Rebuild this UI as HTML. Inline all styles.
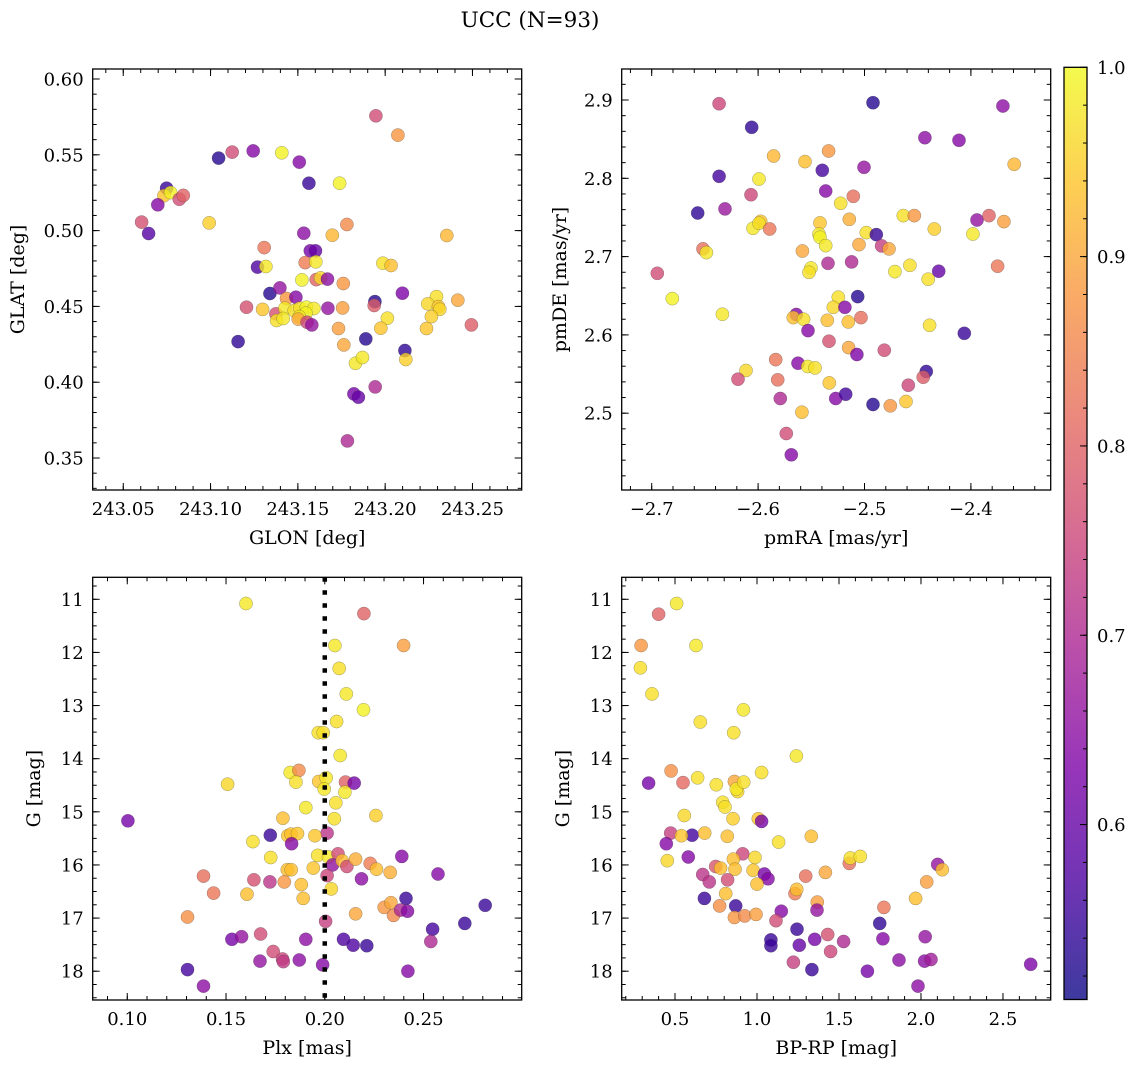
<!DOCTYPE html>
<html><head><meta charset="utf-8"><title>UCC (N=93)</title>
<style>
html,body{margin:0;padding:0;background:#fff;}
svg{display:block;font-family:"DejaVu Serif","Liberation Serif",serif;}
</style></head>
<body>
<svg id="fig" width="1136" height="1067" viewBox="0 0 1136 1067" xmlns="http://www.w3.org/2000/svg">
<rect width="1136" height="1067" fill="#fff"/>
<text x="530" y="27" font-size="21.5" text-anchor="middle">UCC (N=93)</text>
<defs>
<linearGradient id="plasma" x1="0" y1="1" x2="0" y2="0">
<stop offset="0" stop-color="#0d0887"/><stop offset="0.125" stop-color="#4c02a1"/><stop offset="0.25" stop-color="#7e03a8"/><stop offset="0.375" stop-color="#a92395"/><stop offset="0.5" stop-color="#cc4778"/><stop offset="0.625" stop-color="#e56b5d"/><stop offset="0.75" stop-color="#f89441"/><stop offset="0.875" stop-color="#fdc328"/><stop offset="1" stop-color="#f0f921"/>
</linearGradient>
</defs>
</svg>
<script>
// ---- data: panel 1 (GLON vs GLAT)
const glon = [243.1947,243.2073,243.1046,243.1124,243.1244,243.1408,243.1508,243.1563,243.1739,243.0748,243.0733,243.0771,243.0821,243.0844,243.0698,243.0605,243.0645,243.0992,243.1534,243.1697,243.1781,243.2353,243.1307,243.1571,243.1601,243.1269,243.1317,243.1542,243.1603,243.1987,243.2034,243.1523,243.1605,243.163,243.167,243.176,243.134,243.1397,243.1435,243.1489,243.2099,243.2294,243.2244,243.2305,243.2313,243.2416,243.1206,243.1298,243.1374,243.1426,243.1479,243.1511,243.1549,243.1592,243.1546,243.1508,243.1378,243.1416,243.1502,243.1553,243.158,243.1672,243.1756,243.1941,243.1937,243.2013,243.1975,243.1733,243.2237,243.2265,243.2494,243.1158,243.1763,243.1889,243.2113,243.2118,243.183,243.187,243.1943,243.1821,243.1847,243.1784];
const glat = [0.5757,0.5630,0.5478,0.5518,0.5526,0.5513,0.5452,0.5313,0.5313,0.528,0.523,0.5251,0.5207,0.5232,0.517,0.5056,0.4981,0.5051,0.4983,0.497,0.504,0.4968,0.4888,0.4867,0.4867,0.4759,0.4763,0.4789,0.4794,0.4785,0.477,0.4675,0.4677,0.4688,0.468,0.4651,0.4585,0.4622,0.4552,0.4561,0.4587,0.4565,0.4517,0.4499,0.4481,0.4541,0.4495,0.448,0.4451,0.4488,0.4473,0.4488,0.4495,0.4486,0.4455,0.4433,0.4407,0.442,0.4416,0.4396,0.4378,0.4488,0.449,0.4532,0.4506,0.4422,0.4356,0.4354,0.4354,0.4433,0.4378,0.4268,0.4246,0.4286,0.4209,0.415,0.4125,0.4163,0.3969,0.3923,0.3901,0.3613];
const prob1 = [.76,.88,.53,.76,.64,.99,.64,.55,.99,.55,.94,.99,.76,.80,.64,.77,.58,.95,.65,.92,.86,.92,.83,.62,.60,.57,.98,.84,.98,.97,.93,.99,.80,.96,.65,.88,.53,.66,.88,.64,.63,.97,.96,.94,.96,.90,.77,.94,.77,.98,.97,.97,.99,.98,.99,.98,.97,.98,.90,.75,.66,.66,.89,.53,.79,.97,.94,.89,.94,.95,.79,.54,.90,.53,.54,.95,.98,.98,.70,.62,.60,.70];
// ---- data: panel 2 (pmRA vs pmDE)
const pmra = [-2.6367,-2.492,-2.3699,-2.606,-2.4432,-2.4112,-2.5337,-2.5854,-2.5559,-2.5397,-2.5005,-2.3593,-2.6367,-2.5992,-2.5365,-2.6067,-2.5105,-2.5224,-2.6568,-2.6311,-2.4635,-2.4532,-2.3943,-2.383,-2.369,-2.5143,-2.5418,-2.5976,-2.6048,-2.5992,-2.5891,-2.4344,-2.4983,-2.4889,-2.5428,-2.5418,-2.3981,-2.5365,-2.5052,-2.4839,-2.477,-2.6518,-2.6486,-2.5584,-2.6947,-2.5343,-2.5121,-2.5503,-2.5522,-2.4714,-2.4573,-2.4303,-2.4401,-2.3749,-2.6806,-2.6336,-2.5246,-2.5064,-2.5293,-2.5184,-2.5641,-2.5669,-2.5572,-2.535,-2.5152,-2.5033,-2.4388,-2.4062,-2.5531,-2.5334,-2.5149,-2.5071,-2.4814,-2.5835,-2.5625,-2.5534,-2.5465,-2.6114,-2.6189,-2.5816,-2.5331,-2.4419,-2.4448,-2.4588,-2.5791,-2.5271,-2.5177,-2.492,-2.4758,-2.461,-2.5588,-2.5735,-2.5688];
const pmde = [2.8953,2.8966,2.8923,2.8651,2.8519,2.8485,2.8349,2.8285,2.8213,2.8102,2.814,2.8179,2.8026,2.7991,2.7838,2.7791,2.777,2.7681,2.7557,2.7609,2.7523,2.7523,2.7468,2.7523,2.7447,2.7477,2.743,2.7451,2.7362,2.7426,2.7353,2.7353,2.7306,2.7281,2.7289,2.7247,2.7289,2.714,2.7153,2.7136,2.7098,2.7098,2.7051,2.7072,2.6787,2.6915,2.6932,2.6855,2.68,2.6809,2.6889,2.6813,2.6711,2.6877,2.6464,2.6264,2.6481,2.6489,2.6353,2.6353,2.626,2.6221,2.62,2.6187,2.6166,2.6221,2.6123,2.6021,2.6055,2.5919,2.5838,2.5749,2.5804,2.5685,2.5638,2.5596,2.5579,2.5545,2.5434,2.5426,2.5387,2.5532,2.546,2.5357,2.5187,2.5187,2.5243,2.5111,2.5094,2.5149,2.5013,2.474,2.4468];
const prob2 = [.75,.53,.65,.54,.65,.64,.88,.92,.93,.56,.66,.92,.56,.98,.64,.75,.82,.97,.54,.67,.97,.88,.66,.80,.89,.91,.94,.94,.98,.97,.83,.95,.97,.55,.98,.99,.98,.98,.90,.74,.90,.82,.98,.90,.76,.70,.70,.98,.97,.98,.97,.60,.97,.83,.99,.98,.97,.53,.96,.64,.64,.93,.97,.93,.93,.82,.97,.55,.64,.77,.90,.63,.76,.83,.64,.98,.97,.96,.76,.82,.94,.54,.79,.75,.70,.64,.56,.53,.88,.94,.93,.76,.64];
// ---- data: panel 3 (Plx vs G)
const plx = [0.1601,0.2198,0.2051,0.2399,0.2073,0.2109,0.2196,0.206,0.1967,0.1992,0.2078,0.1825,0.1869,0.1854,0.1508,0.1969,0.2007,0.2105,0.2149,0.1997,0.2102,0.2056,0.1904,0.1003,0.2259,0.2048,0.1788,0.1724,0.2012,0.1813,0.1829,0.1862,0.195,0.1636,0.1832,0.1726,0.1964,0.2019,0.2067,0.2039,0.2088,0.2112,0.2156,0.223,0.2262,0.2331,0.239,0.2573,0.1942,0.181,0.183,0.1386,0.1641,0.1722,0.1795,0.1881,0.2012,0.2186,0.2033,0.1437,0.1606,0.1891,0.2411,0.2812,0.2301,0.2335,0.2348,0.2384,0.2419,0.2156,0.1305,0.2004,0.2709,0.2546,0.2537,0.153,0.1579,0.1675,0.1904,0.2095,0.2144,0.2213,0.1739,0.1786,0.179,0.1672,0.1871,0.1989,0.1305,0.2421,0.1386];
const g3 = [11.08,11.27,11.87,11.87,12.30,12.78,13.08,13.30,13.51,13.51,13.94,14.26,14.22,14.44,14.48,14.43,14.36,14.44,14.46,14.57,14.63,14.83,14.92,15.17,15.07,15.13,15.12,15.44,15.40,15.45,15.42,15.41,15.45,15.56,15.60,15.86,15.82,15.85,15.79,16.00,15.92,16.03,15.89,15.97,16.08,16.14,15.84,16.17,16.06,16.09,16.09,16.21,16.28,16.32,16.32,16.37,16.20,16.26,16.45,16.53,16.55,16.63,16.63,16.76,16.80,16.71,16.95,16.85,16.87,16.92,16.98,17.06,17.10,17.21,17.44,17.40,17.35,17.30,17.40,17.40,17.51,17.52,17.63,17.77,17.82,17.81,17.79,17.88,17.97,18.00,18.28];
const prob3 = [.98,.80,.98,.89,.97,.98,.99,.97,.97,.97,.98,.98,.86,.97,.96,.94,.98,.80,.62,.98,.98,.97,.98,.62,.95,.97,.93,.55,.72,.94,.93,.94,.94,.97,.64,.97,.97,.98,.76,.66,.93,.76,.91,.84,.93,.91,.64,.64,.94,.93,.93,.82,.77,.72,.88,.93,.75,.65,.96,.83,.93,.93,.55,.55,.88,.90,.86,.70,.64,.90,.87,.74,.55,.56,.70,.62,.66,.76,.65,.57,.57,.55,.76,.75,.73,.66,.65,.64,.56,.64,.65];
const plxMedian = [0.2];
// ---- data: panel 4 (BP-RP vs G)
const bprp = [0.510,0.400,0.293,0.628,0.289,0.360,0.917,0.654,0.858,1.240,0.476,0.339,0.549,0.638,0.752,1.028,0.862,0.882,0.874,0.919,0.791,0.805,0.557,0.854,1.008,1.028,0.474,0.604,0.539,0.681,0.819,0.447,1.132,1.331,0.453,0.581,0.913,0.856,0.988,1.563,1.569,1.630,2.102,2.130,0.748,0.778,0.866,0.976,1.045,1.067,0.669,0.709,0.821,1.000,1.297,1.417,2.035,1.232,1.242,0.809,0.679,1.368,1.366,1.967,0.772,0.870,0.862,0.925,0.994,1.148,1.116,1.774,1.748,1.244,1.085,1.085,1.258,1.352,1.431,1.528,1.449,1.222,1.335,1.768,2.026,1.866,2.022,2.061,1.673,1.982,2.669];
const g4 = [11.08,11.28,11.87,11.87,12.29,12.78,13.08,13.31,13.51,13.95,14.23,14.46,14.45,14.36,14.49,14.26,14.43,14.62,14.57,14.44,14.82,14.91,15.07,15.13,15.13,15.18,15.40,15.44,15.45,15.40,15.46,15.60,15.57,15.46,15.92,15.85,15.79,15.89,15.86,15.97,15.87,15.84,15.99,16.09,16.03,16.06,16.08,16.10,16.17,16.26,16.18,16.32,16.28,16.36,16.21,16.14,16.32,16.54,16.46,16.54,16.63,16.70,16.85,16.63,16.77,16.77,16.99,16.96,16.93,16.87,17.05,16.80,17.10,17.21,17.41,17.52,17.51,17.40,17.31,17.44,17.63,17.83,17.97,17.39,17.35,17.79,17.81,17.78,18.00,18.28,17.87];
const prob4 = [.98,.80,.88,.98,.97,.97,.98,.97,.97,.98,.87,.62,.81,.97,.97,.97,.90,.96,.98,.97,.97,.97,.96,.95,.94,.62,.74,.56,.94,.93,.93,.64,.97,.93,.96,.64,.75,.93,.96,.82,.97,.97,.66,.93,.78,.93,.93,.94,.62,.64,.72,.72,.76,.93,.82,.90,.89,.84,.93,.93,.55,.89,.66,.93,.87,.55,.88,.86,.89,.64,.76,.83,.54,.55,.55,.55,.60,.62,.77,.70,.75,.74,.55,.64,.66,.65,.65,.68,.62,.65,.63];
// ---- tick / colorbar values
const ticks1x = [243.05,243.10,243.15,243.20,243.25];
const ticks1y = [0.35,0.40,0.45,0.50,0.55,0.60];
const ticks2x = [-2.7,-2.6,-2.5,-2.4];
const ticks2y = [2.5,2.6,2.7,2.8,2.9];
const ticks3x = [0.10,0.15,0.20,0.25];
const ticksGy = [11,12,13,14,15,16,17,18];
const ticks4x = [0.5,1.0,1.5,2.0,2.5];
const cbarTicks = [0.6,0.7,0.8,0.9,1.0];
const cbarRange = [0.5076,1.0];

const NS = "http://www.w3.org/2000/svg";
const svg = document.getElementById('fig');
function mk(tag, attrs, parent){const e=document.createElementNS(NS,tag);for(const k in attrs)e.setAttribute(k,attrs[k]);(parent||svg).appendChild(e);return e;}

const stops=[[0,13,8,135],[.125,76,2,161],[.25,126,3,168],[.375,169,35,149],[.5,204,71,120],[.625,229,107,93],[.75,248,148,65],[.875,253,195,40],[1,240,249,33]];
function plasma(v){
  let t=(v-cbarRange[0])/(cbarRange[1]-cbarRange[0]);t=Math.max(0,Math.min(1,t));
  for(let i=0;i<stops.length-1;i++){const a=stops[i],b=stops[i+1];if(t<=b[0]){const f=(t-a[0])/(b[0]-a[0]);return `rgb(${Math.round(a[1]+f*(b[1]-a[1]))},${Math.round(a[2]+f*(b[2]-a[2]))},${Math.round(a[3]+f*(b[3]-a[3]))})`;}}
  return 'rgb(240,249,33)';
}
function fmt(v,d){const s=Math.abs(v).toFixed(d);return (v<0?'\u2212':'')+s;}

function panel(cfg){
  const g=mk('g',{});
  
  
  const L=cfg.box[0],T=cfg.box[1],R=cfg.box[2],B=cfg.box[3];
  const sx=v=>L+(v-cfg.xd[0])/(cfg.xd[1]-cfg.xd[0])*(R-L);
  const sy=cfg.yinv? v=>T+(v-cfg.yd[0])/(cfg.yd[1]-cfg.yd[0])*(B-T) : v=>B-(v-cfg.yd[0])/(cfg.yd[1]-cfg.yd[0])*(B-T);
  const mg=mk('g',{},g);
  
  
  for(let i=0;i<cfg.x.length;i++){
    const c=mk('circle',{cx:sx(cfg.x[i]).toFixed(1),cy:sy(cfg.y[i]).toFixed(1),r:6.6,fill:plasma(cfg.c[i]),'fill-opacity':0.8,stroke:'#333','stroke-opacity':0.45,'stroke-width':0.5},mg);
    
    
  }
  if(cfg.vline){
    const l=mk('line',{x1:sx(cfg.vline[0]),x2:sx(cfg.vline[0]),y1:T,y2:B,stroke:'#000','stroke-width':4.5,'stroke-dasharray':'4.5 8.5'},g);
    
    
  }
  const tg=mk('g',{stroke:'#000','stroke-width':1},g);
  const M=7,m=4;
  for(let v=cfg.xminor[0]; v<=cfg.xd[1]+1e-9; v+=cfg.xminor[1]){
    if(v<cfg.xd[0]) continue; const x=sx(v);
    mk('line',{x1:x,x2:x,y1:B,y2:B-m},tg);mk('line',{x1:x,x2:x,y1:T,y2:T+m},tg);
  }
  for(let v=cfg.yminor[0]; v<=cfg.yd[1]+1e-9; v+=cfg.yminor[1]){
    if(v<cfg.yd[0]) continue; const y=sy(v);
    mk('line',{x1:L,x2:L+m,y1:y,y2:y},tg);mk('line',{x1:R,x2:R-m,y1:y,y2:y},tg);
  }
  cfg.xt.forEach(v=>{const x=sx(v);
    mk('line',{x1:x,x2:x,y1:B,y2:B-M},tg);mk('line',{x1:x,x2:x,y1:T,y2:T+M},tg);
    const t=mk('text',{x:x,y:B+25,'font-size':18,'text-anchor':'middle'},g);t.textContent=fmt(v,cfg.xdec);
    
    
  });
  cfg.yt.forEach(v=>{const y=sy(v);
    mk('line',{x1:L,x2:L+M,y1:y,y2:y},tg);mk('line',{x1:R,x2:R-M,y1:y,y2:y},tg);
    const t=mk('text',{x:L-9,y:y+6.5,'font-size':18,'text-anchor':'end'},g);t.textContent=fmt(v,cfg.ydec);
    
    
  });
  const fr=mk('rect',{x:L,y:T,width:R-L,height:B-T,fill:'none',stroke:'#000','stroke-width':1.3},g);
  
  
  const xl=mk('text',{x:(L+R)/2,y:B+54,'font-size':19,'text-anchor':'middle'},g);xl.textContent=cfg.xlabel;
  
  
  const yl=mk('text',{x:cfg.ylx,y:(T+B)/2,'font-size':19,'text-anchor':'middle',transform:`rotate(-90 ${cfg.ylx} ${(T+B)/2})`},g);yl.textContent=cfg.ylabel;
  
  
}

panel({name:'glon-glat-panel',box:[92.7,69,521.7,490],xd:[243.0325,243.2782],yd:[0.3289,0.6066],x:glon,y:glat,c:prob1,xt:ticks1x,yt:ticks1y,xdec:2,ydec:2,xminor:[243.04,0.01],yminor:[0.33,0.01],xlabel:'GLON [deg]',ylabel:'GLAT [deg]',ylx:24});
panel({name:'pm-panel',box:[621.7,69,1050.7,490],xd:[-2.7282,-2.325],yd:[2.4019,2.9396],x:pmra,y:pmde,c:prob2,xt:ticks2x,yt:ticks2y,xdec:1,ydec:1,xminor:[-2.72,0.02],yminor:[2.42,0.02],xlabel:'pmRA [mas/yr]',ylabel:'pmDE [mas/yr]',ylx:566});
panel({name:'plx-g-panel',box:[92.7,577.3,521.7,1000],xd:[0.0825,0.2997],yd:[10.586,18.542],yinv:true,x:plx,y:g3,c:prob3,xt:ticks3x,yt:ticksGy,xdec:2,ydec:0,xminor:[0.09,0.01],yminor:[10.75,0.25],xlabel:'Plx [mas]',ylabel:'G [mag]',ylx:40,vline:plxMedian});
panel({name:'cmd-panel',box:[621.7,577.3,1050.7,1000],xd:[0.175,2.791],yd:[10.586,18.542],yinv:true,x:bprp,y:g4,c:prob4,xt:ticks4x,yt:ticksGy,xdec:1,ydec:0,xminor:[0.2,0.1],yminor:[10.75,0.25],xlabel:'BP-RP [mag]',ylabel:'G [mag]',ylx:569});

(function(){
  const L=1064,R=1087,T=67.3,B=999.5;
  const g=mk('g',{});
  
  
  mk('rect',{x:L,y:T,width:R-L,height:B-T,fill:'url(#plasma)','fill-opacity':0.8},g);
  const sy=v=>B-(v-cbarRange[0])/(cbarRange[1]-cbarRange[0])*(B-T);
  for(let v=0.52;v<=1.0001;v+=0.02){const y=sy(v);mk('line',{x1:R,x2:R-4,y1:y,y2:y,stroke:'#000','stroke-width':1},g);}
  cbarTicks.forEach(v=>{const y=sy(v);mk('line',{x1:R,x2:R-7,y1:y,y2:y,stroke:'#000','stroke-width':1},g);
    const t=mk('text',{x:R+10,y:y+6.5,'font-size':18},g);t.textContent=v.toFixed(1);
    
    
  });
  mk('rect',{x:L,y:T,width:R-L,height:B-T,fill:'none',stroke:'#000','stroke-width':1.3},g);
})();
</script>
</body></html>
